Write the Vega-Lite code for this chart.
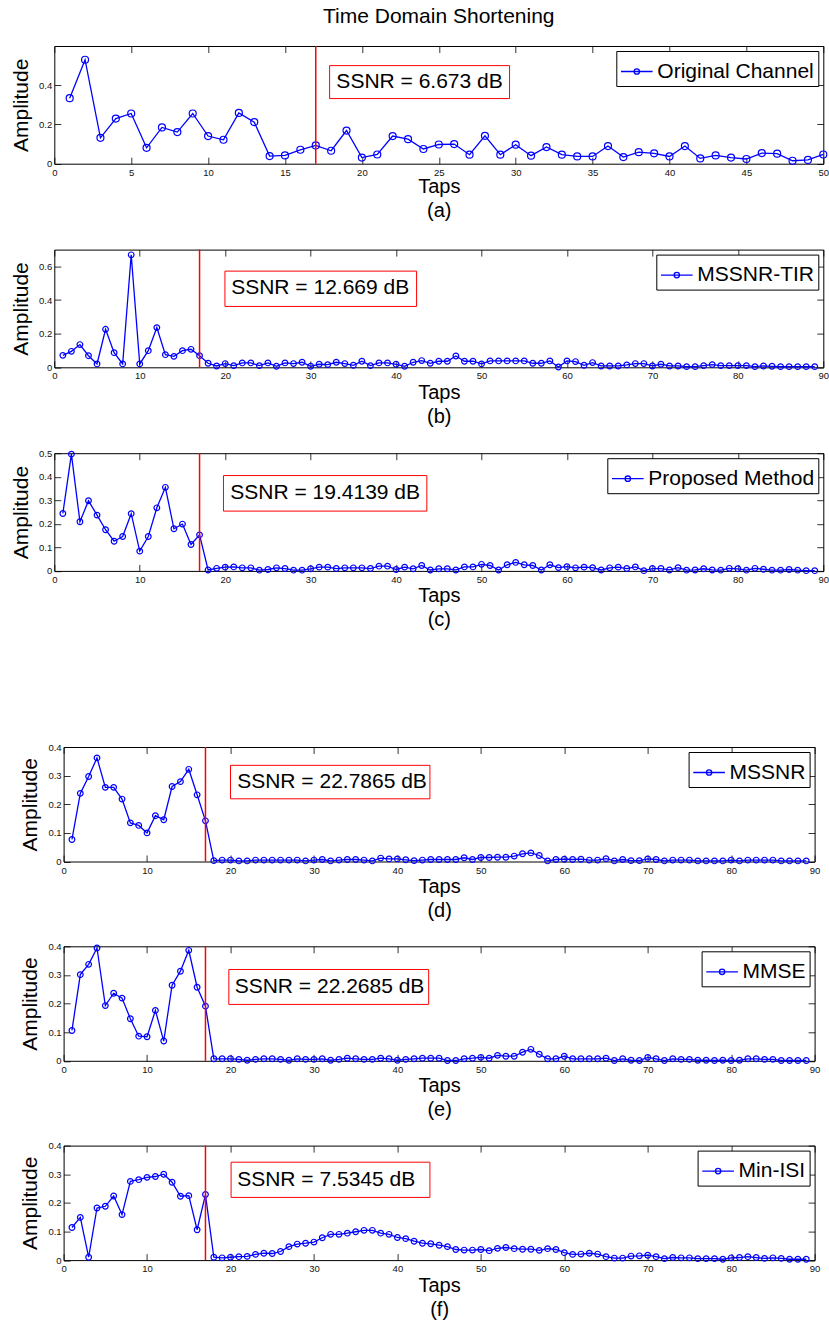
{
"$schema": "https://vega.github.io/schema/vega-lite/v6.json",
"padding": {"left": 10, "top": 5, "right": 0, "bottom": 0},
"datasets": {
"a": [{"tap":1,"amp":0.334},{"tap":2,"amp":0.53},{"tap":3,"amp":0.132},{"tap":4,"amp":0.23},{"tap":5,"amp":0.256},{"tap":6,"amp":0.081},{"tap":7,"amp":0.185},{"tap":8,"amp":0.161},{"tap":9,"amp":0.256},{"tap":10,"amp":0.141},{"tap":11,"amp":0.122},{"tap":12,"amp":0.259},{"tap":13,"amp":0.212},{"tap":14,"amp":0.039},{"tap":15,"amp":0.042},{"tap":16,"amp":0.071},{"tap":17,"amp":0.093},{"tap":18,"amp":0.066},{"tap":19,"amp":0.169},{"tap":20,"amp":0.031},{"tap":21,"amp":0.047},{"tap":22,"amp":0.141},{"tap":23,"amp":0.125},{"tap":24,"amp":0.075},{"tap":25,"amp":0.098},{"tap":26,"amp":0.1},{"tap":27,"amp":0.046},{"tap":28,"amp":0.142},{"tap":29,"amp":0.046},{"tap":30,"amp":0.097},{"tap":31,"amp":0.041},{"tap":32,"amp":0.085},{"tap":33,"amp":0.046},{"tap":34,"amp":0.037},{"tap":35,"amp":0.037},{"tap":36,"amp":0.09},{"tap":37,"amp":0.034},{"tap":38,"amp":0.059},{"tap":39,"amp":0.053},{"tap":40,"amp":0.037},{"tap":41,"amp":0.09},{"tap":42,"amp":0.027},{"tap":43,"amp":0.042},{"tap":44,"amp":0.031},{"tap":45,"amp":0.024},{"tap":46,"amp":0.054},{"tap":47,"amp":0.051},{"tap":48,"amp":0.015},{"tap":49,"amp":0.019},{"tap":50,"amp":0.047}],
"b": [{"tap":1,"amp":0.071},{"tap":2,"amp":0.095},{"tap":3,"amp":0.135},{"tap":4,"amp":0.069},{"tap":5,"amp":0.02},{"tap":6,"amp":0.226},{"tap":7,"amp":0.087},{"tap":8,"amp":0.02},{"tap":9,"amp":0.669},{"tap":10,"amp":0.02},{"tap":11,"amp":0.099},{"tap":12,"amp":0.236},{"tap":13,"amp":0.075},{"tap":14,"amp":0.065},{"tap":15,"amp":0.099},{"tap":16,"amp":0.107},{"tap":17,"amp":0.069},{"tap":18,"amp":0.024},{"tap":19,"amp":0.008},{"tap":20,"amp":0.022},{"tap":21,"amp":0.01},{"tap":22,"amp":0.026},{"tap":23,"amp":0.026},{"tap":24,"amp":0.01},{"tap":25,"amp":0.026},{"tap":26,"amp":0.006},{"tap":27,"amp":0.026},{"tap":28,"amp":0.022},{"tap":29,"amp":0.03},{"tap":30,"amp":0.006},{"tap":31,"amp":0.018},{"tap":32,"amp":0.016},{"tap":33,"amp":0.03},{"tap":34,"amp":0.022},{"tap":35,"amp":0.012},{"tap":36,"amp":0.036},{"tap":37,"amp":0.01},{"tap":38,"amp":0.026},{"tap":39,"amp":0.026},{"tap":40,"amp":0.018},{"tap":41,"amp":0.006},{"tap":42,"amp":0.03},{"tap":43,"amp":0.04},{"tap":44,"amp":0.024},{"tap":45,"amp":0.036},{"tap":46,"amp":0.036},{"tap":47,"amp":0.067},{"tap":48,"amp":0.036},{"tap":49,"amp":0.036},{"tap":50,"amp":0.02},{"tap":51,"amp":0.038},{"tap":52,"amp":0.038},{"tap":53,"amp":0.038},{"tap":54,"amp":0.038},{"tap":55,"amp":0.038},{"tap":56,"amp":0.024},{"tap":57,"amp":0.024},{"tap":58,"amp":0.038},{"tap":59,"amp":0.002},{"tap":60,"amp":0.038},{"tap":61,"amp":0.034},{"tap":62,"amp":0.012},{"tap":63,"amp":0.028},{"tap":64,"amp":0.008},{"tap":65,"amp":0.008},{"tap":66,"amp":0.008},{"tap":67,"amp":0.014},{"tap":68,"amp":0.022},{"tap":69,"amp":0.022},{"tap":70,"amp":0.008},{"tap":71,"amp":0.018},{"tap":72,"amp":0.008},{"tap":73,"amp":0.008},{"tap":74,"amp":0.004},{"tap":75,"amp":0.004},{"tap":76,"amp":0.01},{"tap":77,"amp":0.016},{"tap":78,"amp":0.01},{"tap":79,"amp":0.01},{"tap":80,"amp":0.01},{"tap":81,"amp":0.01},{"tap":82,"amp":0.004},{"tap":83,"amp":0.008},{"tap":84,"amp":0.006},{"tap":85,"amp":0.004},{"tap":86,"amp":0.004},{"tap":87,"amp":0.004},{"tap":88,"amp":0.004},{"tap":89,"amp":0.004}],
"c": [{"tap":1,"amp":0.244},{"tap":2,"amp":0.496},{"tap":3,"amp":0.209},{"tap":4,"amp":0.298},{"tap":5,"amp":0.237},{"tap":6,"amp":0.175},{"tap":7,"amp":0.126},{"tap":8,"amp":0.146},{"tap":9,"amp":0.243},{"tap":10,"amp":0.084},{"tap":11,"amp":0.146},{"tap":12,"amp":0.268},{"tap":13,"amp":0.355},{"tap":14,"amp":0.179},{"tap":15,"amp":0.199},{"tap":16,"amp":0.112},{"tap":17,"amp":0.153},{"tap":18,"amp":0.004},{"tap":19,"amp":0.011},{"tap":20,"amp":0.016},{"tap":21,"amp":0.017},{"tap":22,"amp":0.013},{"tap":23,"amp":0.013},{"tap":24,"amp":0.003},{"tap":25,"amp":0.006},{"tap":26,"amp":0.013},{"tap":27,"amp":0.01},{"tap":28,"amp":0.003},{"tap":29,"amp":0.003},{"tap":30,"amp":0.009},{"tap":31,"amp":0.016},{"tap":32,"amp":0.016},{"tap":33,"amp":0.01},{"tap":34,"amp":0.013},{"tap":35,"amp":0.013},{"tap":36,"amp":0.013},{"tap":37,"amp":0.01},{"tap":38,"amp":0.02},{"tap":39,"amp":0.02},{"tap":40,"amp":0.006},{"tap":41,"amp":0.016},{"tap":42,"amp":0.009},{"tap":43,"amp":0.023},{"tap":44,"amp":0.004},{"tap":45,"amp":0.009},{"tap":46,"amp":0.009},{"tap":47,"amp":0.004},{"tap":48,"amp":0.017},{"tap":49,"amp":0.017},{"tap":50,"amp":0.028},{"tap":51,"amp":0.023},{"tap":52,"amp":0.004},{"tap":53,"amp":0.026},{"tap":54,"amp":0.036},{"tap":55,"amp":0.026},{"tap":56,"amp":0.023},{"tap":57,"amp":0.004},{"tap":58,"amp":0.026},{"tap":59,"amp":0.014},{"tap":60,"amp":0.018},{"tap":61,"amp":0.013},{"tap":62,"amp":0.016},{"tap":63,"amp":0.014},{"tap":64,"amp":0.004},{"tap":65,"amp":0.013},{"tap":66,"amp":0.016},{"tap":67,"amp":0.01},{"tap":68,"amp":0.017},{"tap":69,"amp":0.001},{"tap":70,"amp":0.01},{"tap":71,"amp":0.01},{"tap":72,"amp":0.004},{"tap":73,"amp":0.014},{"tap":74,"amp":0.003},{"tap":75,"amp":0.004},{"tap":76,"amp":0.009},{"tap":77,"amp":0.004},{"tap":78,"amp":0.003},{"tap":79,"amp":0.011},{"tap":80,"amp":0.009},{"tap":81,"amp":0.003},{"tap":82,"amp":0.011},{"tap":83,"amp":0.007},{"tap":84,"amp":0.003},{"tap":85,"amp":0.003},{"tap":86,"amp":0.006},{"tap":87,"amp":0.003},{"tap":88,"amp":0.001},{"tap":89,"amp":0.001}],
"d": [{"tap":1,"amp":0.077},{"tap":2,"amp":0.238},{"tap":3,"amp":0.297},{"tap":4,"amp":0.362},{"tap":5,"amp":0.259},{"tap":6,"amp":0.259},{"tap":7,"amp":0.218},{"tap":8,"amp":0.135},{"tap":9,"amp":0.126},{"tap":10,"amp":0.1},{"tap":11,"amp":0.16},{"tap":12,"amp":0.146},{"tap":13,"amp":0.262},{"tap":14,"amp":0.279},{"tap":15,"amp":0.322},{"tap":16,"amp":0.233},{"tap":17,"amp":0.142},{"tap":18,"amp":0.003},{"tap":19,"amp":0.005},{"tap":20,"amp":0.005},{"tap":21,"amp":0.002},{"tap":22,"amp":0.002},{"tap":23,"amp":0.005},{"tap":24,"amp":0.005},{"tap":25,"amp":0.005},{"tap":26,"amp":0.005},{"tap":27,"amp":0.005},{"tap":28,"amp":0.005},{"tap":29,"amp":0.002},{"tap":30,"amp":0.005},{"tap":31,"amp":0.007},{"tap":32,"amp":0.002},{"tap":33,"amp":0.005},{"tap":34,"amp":0.007},{"tap":35,"amp":0.007},{"tap":36,"amp":0.005},{"tap":37,"amp":0.002},{"tap":38,"amp":0.012},{"tap":39,"amp":0.009},{"tap":40,"amp":0.009},{"tap":41,"amp":0.006},{"tap":42,"amp":0.003},{"tap":43,"amp":0.005},{"tap":44,"amp":0.007},{"tap":45,"amp":0.007},{"tap":46,"amp":0.007},{"tap":47,"amp":0.007},{"tap":48,"amp":0.013},{"tap":49,"amp":0.007},{"tap":50,"amp":0.014},{"tap":51,"amp":0.014},{"tap":52,"amp":0.015},{"tap":53,"amp":0.015},{"tap":54,"amp":0.019},{"tap":55,"amp":0.027},{"tap":56,"amp":0.03},{"tap":57,"amp":0.021},{"tap":58,"amp":0.002},{"tap":59,"amp":0.007},{"tap":60,"amp":0.008},{"tap":61,"amp":0.007},{"tap":62,"amp":0.008},{"tap":63,"amp":0.005},{"tap":64,"amp":0.005},{"tap":65,"amp":0.01},{"tap":66,"amp":0.002},{"tap":67,"amp":0.007},{"tap":68,"amp":0.003},{"tap":69,"amp":0.003},{"tap":70,"amp":0.009},{"tap":71,"amp":0.007},{"tap":72,"amp":0.002},{"tap":73,"amp":0.005},{"tap":74,"amp":0.005},{"tap":75,"amp":0.005},{"tap":76,"amp":0.002},{"tap":77,"amp":0.002},{"tap":78,"amp":0.002},{"tap":79,"amp":0.002},{"tap":80,"amp":0.005},{"tap":81,"amp":0.002},{"tap":82,"amp":0.005},{"tap":83,"amp":0.005},{"tap":84,"amp":0.005},{"tap":85,"amp":0.005},{"tap":86,"amp":0.002},{"tap":87,"amp":0.002},{"tap":88,"amp":0.002},{"tap":89,"amp":0.002}],
"e": [{"tap":1,"amp":0.106},{"tap":2,"amp":0.301},{"tap":3,"amp":0.337},{"tap":4,"amp":0.394},{"tap":5,"amp":0.193},{"tap":6,"amp":0.236},{"tap":7,"amp":0.219},{"tap":8,"amp":0.147},{"tap":9,"amp":0.086},{"tap":10,"amp":0.084},{"tap":11,"amp":0.176},{"tap":12,"amp":0.069},{"tap":13,"amp":0.264},{"tap":14,"amp":0.313},{"tap":15,"amp":0.386},{"tap":16,"amp":0.257},{"tap":17,"amp":0.191},{"tap":18,"amp":0.007},{"tap":19,"amp":0.007},{"tap":20,"amp":0.007},{"tap":21,"amp":0.005},{"tap":22,"amp":0.002},{"tap":23,"amp":0.005},{"tap":24,"amp":0.007},{"tap":25,"amp":0.007},{"tap":26,"amp":0.005},{"tap":27,"amp":0.002},{"tap":28,"amp":0.007},{"tap":29,"amp":0.005},{"tap":30,"amp":0.005},{"tap":31,"amp":0.007},{"tap":32,"amp":0.002},{"tap":33,"amp":0.005},{"tap":34,"amp":0.009},{"tap":35,"amp":0.007},{"tap":36,"amp":0.005},{"tap":37,"amp":0.005},{"tap":38,"amp":0.009},{"tap":39,"amp":0.007},{"tap":40,"amp":0.002},{"tap":41,"amp":0.005},{"tap":42,"amp":0.007},{"tap":43,"amp":0.009},{"tap":44,"amp":0.009},{"tap":45,"amp":0.009},{"tap":46,"amp":0.001},{"tap":47,"amp":0.001},{"tap":48,"amp":0.007},{"tap":49,"amp":0.009},{"tap":50,"amp":0.012},{"tap":51,"amp":0.009},{"tap":52,"amp":0.019},{"tap":53,"amp":0.016},{"tap":54,"amp":0.016},{"tap":55,"amp":0.03},{"tap":56,"amp":0.04},{"tap":57,"amp":0.023},{"tap":58,"amp":0.007},{"tap":59,"amp":0.007},{"tap":60,"amp":0.016},{"tap":61,"amp":0.007},{"tap":62,"amp":0.007},{"tap":63,"amp":0.007},{"tap":64,"amp":0.007},{"tap":65,"amp":0.009},{"tap":66,"amp":0.001},{"tap":67,"amp":0.007},{"tap":68,"amp":0.002},{"tap":69,"amp":0.001},{"tap":70,"amp":0.012},{"tap":71,"amp":0.007},{"tap":72,"amp":0.001},{"tap":73,"amp":0.007},{"tap":74,"amp":0.005},{"tap":75,"amp":0.005},{"tap":76,"amp":0.002},{"tap":77,"amp":0.002},{"tap":78,"amp":0.001},{"tap":79,"amp":0.002},{"tap":80,"amp":0.001},{"tap":81,"amp":0.002},{"tap":82,"amp":0.007},{"tap":83,"amp":0.007},{"tap":84,"amp":0.005},{"tap":85,"amp":0.005},{"tap":86,"amp":0.001},{"tap":87,"amp":0.001},{"tap":88,"amp":0.001},{"tap":89,"amp":0.001}],
"f": [{"tap":1,"amp":0.114},{"tap":2,"amp":0.149},{"tap":3,"amp":0.01},{"tap":4,"amp":0.182},{"tap":5,"amp":0.188},{"tap":6,"amp":0.224},{"tap":7,"amp":0.159},{"tap":8,"amp":0.275},{"tap":9,"amp":0.281},{"tap":10,"amp":0.289},{"tap":11,"amp":0.292},{"tap":12,"amp":0.3},{"tap":13,"amp":0.272},{"tap":14,"amp":0.223},{"tap":15,"amp":0.225},{"tap":16,"amp":0.106},{"tap":17,"amp":0.229},{"tap":18,"amp":0.01},{"tap":19,"amp":0.008},{"tap":20,"amp":0.01},{"tap":21,"amp":0.012},{"tap":22,"amp":0.013},{"tap":23,"amp":0.02},{"tap":24,"amp":0.024},{"tap":25,"amp":0.023},{"tap":26,"amp":0.03},{"tap":27,"amp":0.047},{"tap":28,"amp":0.056},{"tap":29,"amp":0.059},{"tap":30,"amp":0.063},{"tap":31,"amp":0.078},{"tap":32,"amp":0.09},{"tap":33,"amp":0.09},{"tap":34,"amp":0.094},{"tap":35,"amp":0.099},{"tap":36,"amp":0.104},{"tap":37,"amp":0.104},{"tap":38,"amp":0.094},{"tap":39,"amp":0.09},{"tap":40,"amp":0.079},{"tap":41,"amp":0.075},{"tap":42,"amp":0.066},{"tap":43,"amp":0.059},{"tap":44,"amp":0.057},{"tap":45,"amp":0.052},{"tap":46,"amp":0.047},{"tap":47,"amp":0.037},{"tap":48,"amp":0.035},{"tap":49,"amp":0.035},{"tap":50,"amp":0.037},{"tap":51,"amp":0.033},{"tap":52,"amp":0.041},{"tap":53,"amp":0.044},{"tap":54,"amp":0.04},{"tap":55,"amp":0.038},{"tap":56,"amp":0.038},{"tap":57,"amp":0.034},{"tap":58,"amp":0.04},{"tap":59,"amp":0.037},{"tap":60,"amp":0.026},{"tap":61,"amp":0.02},{"tap":62,"amp":0.021},{"tap":63,"amp":0.024},{"tap":64,"amp":0.021},{"tap":65,"amp":0.012},{"tap":66,"amp":0.007},{"tap":67,"amp":0.007},{"tap":68,"amp":0.014},{"tap":69,"amp":0.015},{"tap":70,"amp":0.017},{"tap":71,"amp":0.012},{"tap":72,"amp":0.005},{"tap":73,"amp":0.009},{"tap":74,"amp":0.008},{"tap":75,"amp":0.008},{"tap":76,"amp":0.005},{"tap":77,"amp":0.005},{"tap":78,"amp":0.005},{"tap":79,"amp":0.003},{"tap":80,"amp":0.008},{"tap":81,"amp":0.009},{"tap":82,"amp":0.012},{"tap":83,"amp":0.009},{"tap":84,"amp":0.006},{"tap":85,"amp":0.008},{"tap":86,"amp":0.006},{"tap":87,"amp":0.003},{"tap":88,"amp":0.003},{"tap":89,"amp":0.003}]
},
"vconcat": [
{
"spacing": 85.6,
"bounds": "flush",
"resolve": {"scale": {"x": "independent", "y": "independent", "color": "independent"}, "legend": {"color": "independent"}},
"vconcat": [
{
"width": 769, "height": 117.7,
"title": {"text": "Time Domain Shortening", "fontSize": 21, "fontWeight": "normal", "offset": 18, "anchor": "middle", "frame": "group", "color": "#000", "font": "Liberation Sans"},
"data": {"values": [{"label": "SSNR = 6.673 dB"}]},
"layer": [
{"data": {"name": "a"}, "mark": {"type": "line", "strokeWidth": 1.3, "point": {"filled": false, "size": 49, "strokeWidth": 1.2}},
 "encoding": {
  "x": {"field": "tap", "type": "quantitative", "scale": {"domain": [0, 50], "nice": false, "zero": false}, "axis": {"orient": "bottom", "values": [0,5,10,15,20,25,30,35,40,45,50], "format": "d", "title": ["Taps", "(a)"], "titlePadding": 0}},
  "y": {"field": "amp", "type": "quantitative", "scale": {"domain": [0, 0.6], "nice": false}, "axis": {"orient": "left", "values": [0, 0.2, 0.4], "format": "~g", "title": "Amplitude"}},
  "color": {"datum": "Original Channel", "scale": {"range": ["#0000ff"]}, "legend": {"orient": "top-right"}}
 }},
{"mark": {"type": "rule", "color": "#ff0000", "strokeWidth": 1.5},
 "encoding": {"x": {"datum": 17, "type": "quantitative", "axis": {"orient": "top", "values": [0,5,10,15,20,25,30,35,40,45,50], "labels": false, "title": null}}}},
{"mark": {"type": "rect", "fill": "white", "stroke": "#ff0000", "strokeWidth": 1},
 "encoding": {"x": {"datum": 17.9, "type": "quantitative", "axis": null}, "x2": {"datum": 29.6}, "y": {"datum": 0.5, "type": "quantitative", "axis": {"orient": "right", "values": [0, 0.2, 0.4], "labels": false, "title": null}}, "y2": {"datum": 0.332}}},
{"mark": {"type": "text", "align": "left", "baseline": "middle", "fontSize": 21, "font": "Liberation Sans", "color": "#000"},
 "encoding": {"x": {"datum": 18.34, "type": "quantitative", "axis": null}, "y": {"datum": 0.417, "type": "quantitative", "axis": null}, "text": {"field": "label"}}}
],
"resolve": {"axis": {"x": "independent", "y": "independent"}}
},
{
"width": 769, "height": 117.7,
"data": {"values": [{"label": "SSNR = 12.669 dB"}]},
"layer": [
{"data": {"name": "b"}, "mark": {"type": "line", "strokeWidth": 1.3, "point": {"filled": false, "size": 32, "strokeWidth": 1.2}},
 "encoding": {
  "x": {"field": "tap", "type": "quantitative", "scale": {"domain": [0, 90], "nice": false, "zero": false}, "axis": {"orient": "bottom", "values": [0,10,20,30,40,50,60,70,80,90], "format": "d", "title": ["Taps", "(b)"], "titlePadding": 2}},
  "y": {"field": "amp", "type": "quantitative", "scale": {"domain": [0, 0.7], "nice": false}, "axis": {"orient": "left", "values": [0, 0.2, 0.4, 0.6], "format": "~g", "title": "Amplitude"}},
  "color": {"datum": "MSSNR-TIR", "scale": {"range": ["#0000ff"]}, "legend": {"orient": "top-right"}}
 }},
{"mark": {"type": "rule", "color": "#ff0000", "strokeWidth": 1.5},
 "encoding": {"x": {"datum": 17, "type": "quantitative", "axis": {"orient": "top", "values": [0,10,20,30,40,50,60,70,80,90], "labels": false, "title": null}}}},
{"mark": {"type": "rect", "fill": "white", "stroke": "#ff0000", "strokeWidth": 1},
 "encoding": {"x": {"datum": 19.97, "type": "quantitative", "axis": null}, "x2": {"datum": 42.4}, "y": {"datum": 0.572, "type": "quantitative", "axis": {"orient": "right", "values": [0, 0.2, 0.4, 0.6], "labels": false, "title": null}}, "y2": {"datum": 0.362}}},
{"mark": {"type": "text", "align": "left", "baseline": "middle", "fontSize": 21, "font": "Liberation Sans", "color": "#000"},
 "encoding": {"x": {"datum": 20.7, "type": "quantitative", "axis": null}, "y": {"datum": 0.469, "type": "quantitative", "axis": null}, "text": {"field": "label"}}}
],
"resolve": {"axis": {"x": "independent", "y": "independent"}}
},
{
"width": 769, "height": 117.7,
"data": {"values": [{"label": "SSNR = 19.4139 dB"}]},
"layer": [
{"data": {"name": "c"}, "mark": {"type": "line", "strokeWidth": 1.3, "point": {"filled": false, "size": 32, "strokeWidth": 1.2}},
 "encoding": {
  "x": {"field": "tap", "type": "quantitative", "scale": {"domain": [0, 90], "nice": false, "zero": false}, "axis": {"orient": "bottom", "values": [0,10,20,30,40,50,60,70,80,90], "format": "d", "title": ["Taps", "(c)"], "titlePadding": 2}},
  "y": {"field": "amp", "type": "quantitative", "scale": {"domain": [0, 0.5], "nice": false}, "axis": {"orient": "left", "values": [0, 0.1, 0.2, 0.3, 0.4, 0.5], "format": "~g", "title": "Amplitude"}},
  "color": {"datum": "Proposed Method", "scale": {"range": ["#0000ff"]}, "legend": {"orient": "top-right"}}
 }},
{"mark": {"type": "rule", "color": "#ff0000", "strokeWidth": 1.5},
 "encoding": {"x": {"datum": 17, "type": "quantitative", "axis": {"orient": "top", "values": [0,10,20,30,40,50,60,70,80,90], "labels": false, "title": null}}}},
{"mark": {"type": "rect", "fill": "white", "stroke": "#ff0000", "strokeWidth": 1},
 "encoding": {"x": {"datum": 19.8, "type": "quantitative", "axis": null}, "x2": {"datum": 43.6}, "y": {"datum": 0.405, "type": "quantitative", "axis": {"orient": "right", "values": [0, 0.1, 0.2, 0.3, 0.4, 0.5], "labels": false, "title": null}}, "y2": {"datum": 0.254}}},
{"mark": {"type": "text", "align": "left", "baseline": "middle", "fontSize": 21, "font": "Liberation Sans", "color": "#000"},
 "encoding": {"x": {"datum": 20.6, "type": "quantitative", "axis": null}, "y": {"datum": 0.33, "type": "quantitative", "axis": null}, "text": {"field": "label"}}}
],
"resolve": {"axis": {"x": "independent", "y": "independent"}}
}
]
},
{
"spacing": 84.3,
"bounds": "flush",
"resolve": {"scale": {"x": "independent", "y": "independent", "color": "independent"}, "legend": {"color": "independent"}},
"vconcat": [
{
"width": 751, "height": 114.5,
"data": {"values": [{"label": "SSNR = 22.7865 dB"}]},
"layer": [
{"data": {"name": "d"}, "mark": {"type": "line", "strokeWidth": 1.3, "point": {"filled": false, "size": 32, "strokeWidth": 1.2}},
 "encoding": {
  "x": {"field": "tap", "type": "quantitative", "scale": {"domain": [0, 90], "nice": false, "zero": false}, "axis": {"orient": "bottom", "values": [0,10,20,30,40,50,60,70,80,90], "format": "d", "title": ["Taps", "(d)"], "titlePadding": 2}},
  "y": {"field": "amp", "type": "quantitative", "scale": {"domain": [0, 0.4], "nice": false}, "axis": {"orient": "left", "values": [0, 0.1, 0.2, 0.3, 0.4], "format": "~g", "title": "Amplitude"}},
  "color": {"datum": "MSSNR", "scale": {"range": ["#0000ff"]}, "legend": {"orient": "top-right"}}
 }},
{"mark": {"type": "rule", "color": "#ff0000", "strokeWidth": 1.5},
 "encoding": {"x": {"datum": 17, "type": "quantitative", "axis": {"orient": "top", "values": [0,10,20,30,40,50,60,70,80,90], "labels": false, "title": null}}}},
{"mark": {"type": "rect", "fill": "white", "stroke": "#ff0000", "strokeWidth": 1},
 "encoding": {"x": {"datum": 20.0, "type": "quantitative", "axis": null}, "x2": {"datum": 43.9}, "y": {"datum": 0.336, "type": "quantitative", "axis": {"orient": "right", "values": [0, 0.1, 0.2, 0.3, 0.4], "labels": false, "title": null}}, "y2": {"datum": 0.219}}},
{"mark": {"type": "text", "align": "left", "baseline": "middle", "fontSize": 21, "font": "Liberation Sans", "color": "#000"},
 "encoding": {"x": {"datum": 20.8, "type": "quantitative", "axis": null}, "y": {"datum": 0.277, "type": "quantitative", "axis": null}, "text": {"field": "label"}}}
],
"resolve": {"axis": {"x": "independent", "y": "independent"}}
},
{
"width": 751, "height": 114.5,
"data": {"values": [{"label": "SSNR = 22.2685 dB"}]},
"layer": [
{"data": {"name": "e"}, "mark": {"type": "line", "strokeWidth": 1.3, "point": {"filled": false, "size": 32, "strokeWidth": 1.2}},
 "encoding": {
  "x": {"field": "tap", "type": "quantitative", "scale": {"domain": [0, 90], "nice": false, "zero": false}, "axis": {"orient": "bottom", "values": [0,10,20,30,40,50,60,70,80,90], "format": "d", "title": ["Taps", "(e)"], "titlePadding": 2}},
  "y": {"field": "amp", "type": "quantitative", "scale": {"domain": [0, 0.4], "nice": false}, "axis": {"orient": "left", "values": [0, 0.1, 0.2, 0.3, 0.4], "format": "~g", "title": "Amplitude"}},
  "color": {"datum": "MMSE", "scale": {"range": ["#0000ff"]}, "legend": {"orient": "top-right"}}
 }},
{"mark": {"type": "rule", "color": "#ff0000", "strokeWidth": 1.5},
 "encoding": {"x": {"datum": 17, "type": "quantitative", "axis": {"orient": "top", "values": [0,10,20,30,40,50,60,70,80,90], "labels": false, "title": null}}}},
{"mark": {"type": "rect", "fill": "white", "stroke": "#ff0000", "strokeWidth": 1},
 "encoding": {"x": {"datum": 19.8, "type": "quantitative", "axis": null}, "x2": {"datum": 43.75}, "y": {"datum": 0.319, "type": "quantitative", "axis": {"orient": "right", "values": [0, 0.1, 0.2, 0.3, 0.4], "labels": false, "title": null}}, "y2": {"datum": 0.197}}},
{"mark": {"type": "text", "align": "left", "baseline": "middle", "fontSize": 21, "font": "Liberation Sans", "color": "#000"},
 "encoding": {"x": {"datum": 20.5, "type": "quantitative", "axis": null}, "y": {"datum": 0.258, "type": "quantitative", "axis": null}, "text": {"field": "label"}}}
],
"resolve": {"axis": {"x": "independent", "y": "independent"}}
},
{
"width": 751, "height": 114.5,
"data": {"values": [{"label": "SSNR = 7.5345 dB"}]},
"layer": [
{"data": {"name": "f"}, "mark": {"type": "line", "strokeWidth": 1.3, "point": {"filled": false, "size": 32, "strokeWidth": 1.2}},
 "encoding": {
  "x": {"field": "tap", "type": "quantitative", "scale": {"domain": [0, 90], "nice": false, "zero": false}, "axis": {"orient": "bottom", "values": [0,10,20,30,40,50,60,70,80,90], "format": "d", "title": ["Taps", "(f)"], "titlePadding": 2}},
  "y": {"field": "amp", "type": "quantitative", "scale": {"domain": [0, 0.4], "nice": false}, "axis": {"orient": "left", "values": [0, 0.1, 0.2, 0.3, 0.4], "format": "~g", "title": "Amplitude"}},
  "color": {"datum": "Min-ISI", "scale": {"range": ["#0000ff"]}, "legend": {"orient": "top-right"}}
 }},
{"mark": {"type": "rule", "color": "#ff0000", "strokeWidth": 1.5},
 "encoding": {"x": {"datum": 17, "type": "quantitative", "axis": {"orient": "top", "values": [0,10,20,30,40,50,60,70,80,90], "labels": false, "title": null}}}},
{"mark": {"type": "rect", "fill": "white", "stroke": "#ff0000", "strokeWidth": 1},
 "encoding": {"x": {"datum": 20.07, "type": "quantitative", "axis": null}, "x2": {"datum": 43.9}, "y": {"datum": 0.342, "type": "quantitative", "axis": {"orient": "right", "values": [0, 0.1, 0.2, 0.3, 0.4], "labels": false, "title": null}}, "y2": {"datum": 0.219}}},
{"mark": {"type": "text", "align": "left", "baseline": "middle", "fontSize": 21, "font": "Liberation Sans", "color": "#000"},
 "encoding": {"x": {"datum": 20.8, "type": "quantitative", "axis": null}, "y": {"datum": 0.281, "type": "quantitative", "axis": null}, "text": {"field": "label"}}}
],
"resolve": {"axis": {"x": "independent", "y": "independent"}}
}
]
}
],
"spacing": 110,
"center": true,
"resolve": {"scale": {"x": "independent", "y": "independent", "color": "independent"}, "legend": {"color": "independent"}},
"config": {
"font": "Liberation Sans",
"background": "white",
"view": {"stroke": "#000", "strokeWidth": 1},
"axis": {"grid": false, "domain": false, "ticks": true, "tickSize": -6.5, "tickColor": "#000", "tickWidth": 0.8, "labelFont": "Liberation Sans", "labelFontSize": 9.5, "labelColor": "#111", "labelFlush": false, "labelOverlap": false, "titleFont": "Liberation Sans", "titleFontWeight": "normal", "titleColor": "#000"},
"axisX": {"labelPadding": 10, "titleFontSize": 20, "titleLineHeight": 24},
"axisY": {"labelPadding": 9, "titleFontSize": 21, "titlePadding": 7},
"legend": {"title": null, "strokeColor": "#000", "fillColor": "white", "padding": 4, "cornerRadius": 0, "offset": 5, "labelFont": "Liberation Sans", "labelFontSize": 21, "labelColor": "#000", "labelLimit": 400, "labelOffset": 4, "symbolType": "M-1,0L1,0M0.17,0A0.17,0.17,0,1,1,-0.17,0A0.17,0.17,0,1,1,0.17,0", "symbolSize": 1000, "symbolStrokeWidth": 1.3, "symbolFillColor": "transparent"}
}
}
